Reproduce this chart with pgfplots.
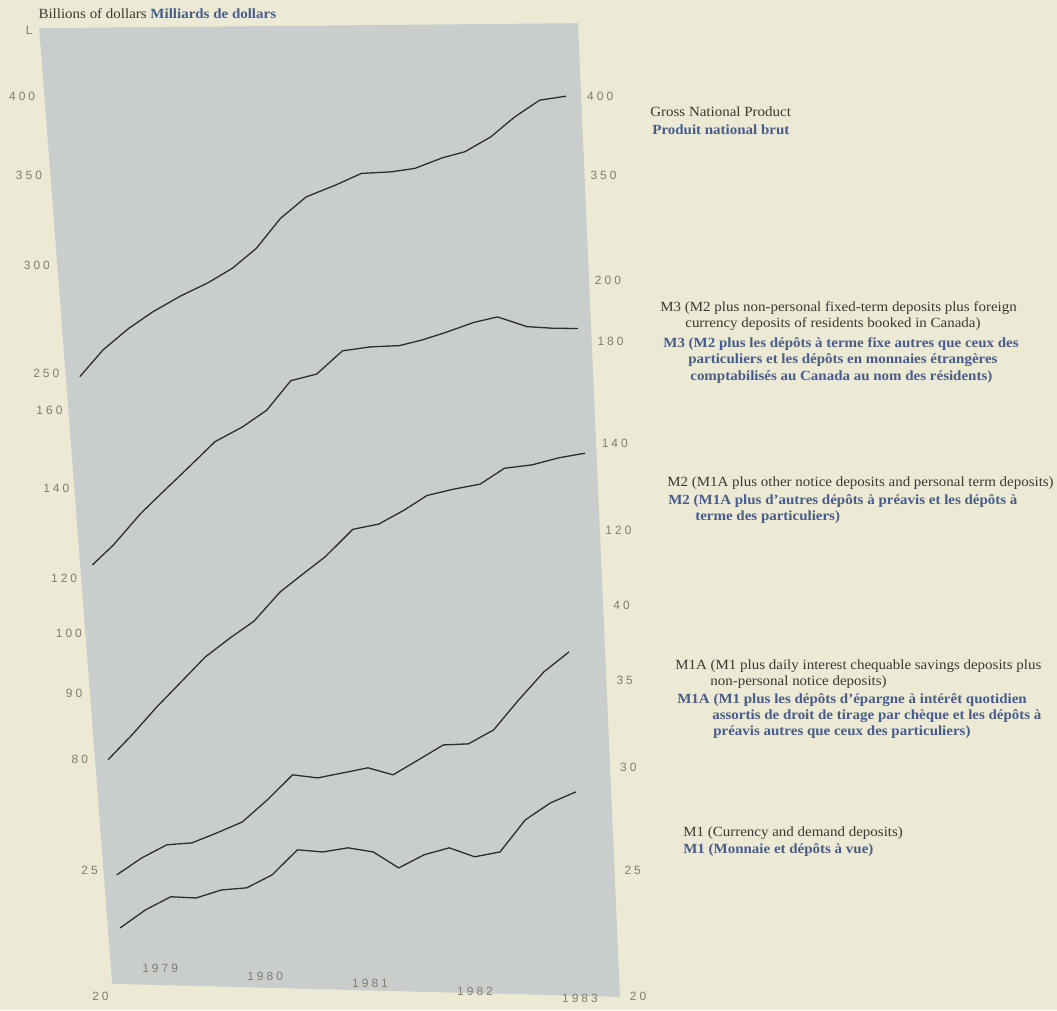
\documentclass[border=0pt]{standalone}
\usepackage{fontspec}
\setmainfont{Liberation Serif}
\newfontfamily\legfont[FakeStretch=1.07]{Liberation Serif}
\newfontfamily\tickfont[LetterSpace=25]{Liberation Sans}
\usepackage{pgfplots}
\pgfplotsset{compat=1.18}
\definecolor{paper}{RGB}{236,234,212}
\definecolor{plate}{RGB}{201,206,205}
\definecolor{engtext}{RGB}{58,56,50}
\definecolor{frtext}{RGB}{72,92,138}
\definecolor{tickgray}{RGB}{128,125,112}
\definecolor{linecol}{RGB}{45,45,45}
\newcommand\eng{\color{engtext}}
\newcommand\fr{\color{frtext}\bfseries}
\pgfplotsset{
  gnp/.style={y filter/.expression={96+590*ln(400/y)}},
  mthree/.style={y filter/.expression={280+585*ln(200/y)}},
  mtwo/.style={y filter/.expression={443+566*ln(140/y)}},
  mone/.style={y filter/.expression={605+565*ln(40/y)}},
  series/.style={color=linecol, line width=0.65pt, no markers, line join=round},
}
\begin{document}
\begin{tikzpicture}
\begin{scope}[yshift=505pt,x=0.5pt,y=-0.5pt]
\fill[paper] (0,0) rectangle (1057,1010);
\fill[plate] (39,28) -- (578,23) -- (620,997) -- (112,984) -- cycle;
\end{scope}
\begin{axis}[
  at={(0,0)}, anchor=south west,
  scale only axis, width=528.5pt, height=505pt,
  xmin=1977.97619, xmax=1988.04286, ymin=0, ymax=1010, y dir=reverse,
  axis line style={draw=none}, major tick length=0pt,
  tick label style={font=\tickfont\fontsize{6}{7}\selectfont, text=tickgray},
  xtick={1979.5,1980.5,1981.5,1982.5,1983.5},
  xticklabels={1979,1980,1981,1982,1983},
  xticklabel style={anchor=center, yshift={20.5pt-3.75pt*(\tick-1979.5)}},
  ytick={96,174.8,265.7,373.3,410.5,488.7,578.8,633.4,693.1,759.7,870.6,996.6},
  yticklabels={400,350,300,250,160,140,120,100,90,80,25,20},
  yticklabel style={anchor=center, xshift={6.8pt+0.0435pt*\tick}},
  extra y ticks={96,174.8,280,341.6,443,530.2,605,680.4,767.5,870.6,996.6},
  extra y tick labels={400,350,200,180,140,120,40,35,30,25,20},
  extra y tick style={every y tick label/.style={anchor=center, xshift={298.1pt+0.021pt*\tick}}},
  clip=false,
]
% Gross National Product
\addplot[series, gnp] table {
t v
1978.735 248.6
1978.955 260.1
1979.201 269.8
1979.431 277.5
1979.693 285.0
1979.956 291.5
1980.187 298.7
1980.416 309.0
1980.646 325.1
1980.892 337.2
1981.171 344.0
1981.418 350.9
1981.697 351.8
1981.927 353.9
1982.190 360.3
1982.403 364.0
1982.650 373.3
1982.879 386.2
1983.116 397.3
1983.367 400.0
};
% M3
\addplot[series, mthree] table {
t v
1978.856 122.9
1979.053 127.1
1979.316 134.2
1979.513 138.9
1979.727 144.1
1980.022 151.7
1980.285 155.6
1980.515 160.1
1980.745 168.4
1980.991 170.3
1981.237 177.2
1981.500 178.4
1981.779 178.8
1981.992 180.5
1982.223 182.9
1982.485 186.0
1982.715 187.8
1982.994 184.7
1983.234 184.2
1983.481 184.1
};
% M2
\addplot[series, mtwo] table {
t v
1979.005 80.0
1979.233 83.6
1979.462 87.7
1979.690 91.6
1979.929 95.9
1980.167 99.2
1980.395 102.2
1980.643 107.6
1980.862 111.1
1981.073 114.5
1981.336 120.2
1981.582 121.3
1981.829 124.4
1982.042 127.6
1982.289 129.0
1982.550 130.2
1982.781 133.9
1983.044 134.7
1983.300 136.4
1983.548 137.5
};
% M1A
\addplot[series, mone] table {
t v
1979.086 24.80
1979.325 25.56
1979.564 26.16
1979.804 26.25
1980.043 26.72
1980.283 27.24
1980.522 28.33
1980.762 29.61
1981.001 29.45
1981.240 29.71
1981.480 29.98
1981.719 29.61
1981.959 30.40
1982.198 31.22
1982.438 31.28
1982.677 32.06
1982.916 33.81
1983.156 35.53
1983.395 36.81
};
% M1
\addplot[series, mone] table {
t v
1979.119 22.58
1979.360 23.31
1979.601 23.86
1979.843 23.81
1980.084 24.15
1980.325 24.24
1980.566 24.80
1980.808 25.93
1981.049 25.83
1981.290 26.02
1981.531 25.83
1981.773 25.11
1982.014 25.70
1982.255 26.02
1982.496 25.61
1982.738 25.83
1982.979 27.34
1983.220 28.18
1983.461 28.73
};
\end{axis}
\begin{scope}[yshift=505pt,x=0.5pt,y=-0.5pt,
  lg/.style={anchor=base west, inner sep=0pt, font=\legfont\fontsize{7}{8}\selectfont}]
\node[lg] at (38,18.5) {\eng Billions of dollars \fr Milliards de dollars};
\node[anchor=center, inner sep=0pt, font=\tickfont\fontsize{6}{7}\selectfont, text=tickgray] at (29,30) {L};
\node[lg] at (650,116) {\eng Gross National Product};
\node[lg] at (652,134) {\fr Produit national brut};
\node[lg] at (660,311) {\eng M3 (M2 plus non-personal fixed-term deposits plus foreign};
\node[lg] at (685,327) {\eng currency deposits of residents booked in Canada)};
\node[lg] at (663,347) {\fr M3 (M2 plus les dépôts à terme fixe autres que ceux des};
\node[lg] at (688,363) {\fr particuliers et les dépôts en monnaies étrangères};
\node[lg] at (690,380) {\fr comptabilisés au Canada au nom des résidents)};
\node[lg] at (667,486) {\eng M2 (M1A plus other notice deposits and personal term deposits)};
\node[lg] at (668,504) {\fr M2 (M1A plus d’autres dépôts à préavis et les dépôts à};
\node[lg] at (695,521) {\fr terme des particuliers)};
\node[lg] at (675,670) {\eng M1A (M1 plus daily interest chequable savings deposits plus};
\node[lg] at (710,686) {\eng non-personal notice deposits)};
\node[lg] at (677,704) {\fr M1A (M1 plus les dépôts d’épargne à intérêt quotidien};
\node[lg] at (712,720) {\fr assortis de droit de tirage par chèque et les dépôts à};
\node[lg] at (713,736) {\fr préavis autres que ceux des particuliers)};
\node[lg] at (683,837) {\eng M1 (Currency and demand deposits)};
\node[lg] at (683,854) {\fr M1 (Monnaie et dépôts à vue)};
\end{scope}
\end{tikzpicture}
\end{document}
